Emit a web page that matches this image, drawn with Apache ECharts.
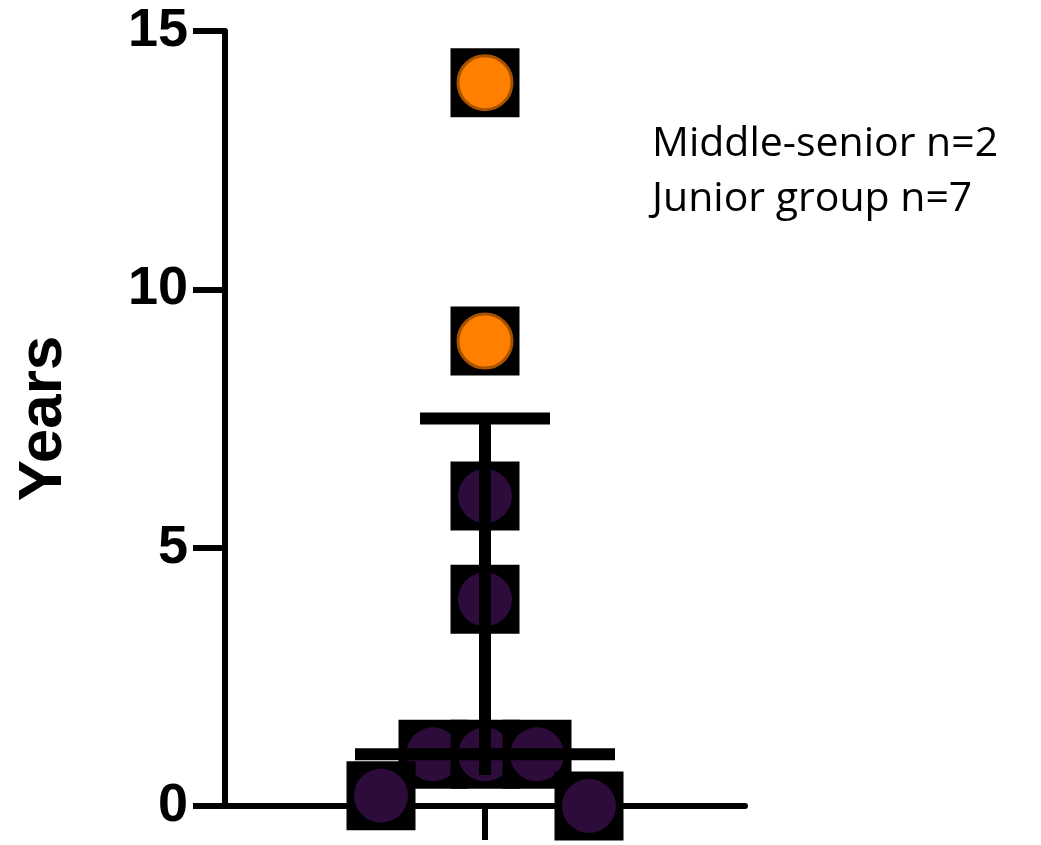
<!DOCTYPE html>
<html>
<head>
<meta charset="utf-8">
<script src="https://cdn.jsdelivr.net/npm/echarts@6/dist/echarts.min.js"></script>
<style>
html,body{margin:0;padding:0;background:#fff;}
#Charts1{width:1041px;height:845px;}
</style>
</head>
<body>
<div id="Charts1"></div>
<script>
// data
var groupNames = ['Middle-senior n=2', 'Junior group n=7'];
var middleX = [0, 0];
var middleY = [14, 9];
var juniorX = [0, 0, -0.2, 0, 0.2, -0.4, 0.4];
var juniorY = [6, 4, 1, 1, 1, 0.2, 0];
var yTicks = [0, 5, 10, 15];
// median with interquartile range of all points
var median = 1, q1 = 0.6, q3 = 7.5;

ShowChart();
function ShowChart(){
	var myChart = echarts.init(document.getElementById('Charts1'));
	var pts = [];
	for (var i = 0; i < middleY.length; i++) pts.push([middleX[i], middleY[i], 1]);
	for (var j = 0; j < juniorY.length; j++) pts.push([juniorX[j], juniorY[j], 0]);

	var barLine = { color: '#000', width: 12, cap: 'butt' };
	var option = {
		animation: false,
		grid: { left: 225, right: 296, top: 31, bottom: 39, containLabel: false },
		xAxis: {
			type: 'value', min: -1, max: 1, interval: 1,
			axisLine: { show: true, onZero: false, lineStyle: { color: '#000', width: 6 } },
			axisTick: { show: true, length: 34, customValues: [0], lineStyle: { color: '#000', width: 6 } },
			axisLabel: { show: false },
			splitLine: { show: false }
		},
		yAxis: {
			type: 'value', min: 0, max: 15, interval: 5,
			name: 'Years', nameLocation: 'middle', nameRotate: 90, nameGap: 150,
			nameTextStyle: { fontFamily: 'Liberation Sans', fontWeight: 'bold', fontSize: 62, color: '#000' },
			axisLine: { show: true, onZero: false, lineStyle: { color: '#000', width: 6 } },
			axisTick: { show: true, length: 32, lineStyle: { color: '#000', width: 6 } },
			axisLabel: { margin: 37, fontFamily: 'Liberation Sans', fontWeight: 'bold', fontSize: 54, color: '#000',
				formatter: function (v) { return yTicks.indexOf(v) >= 0 ? String(v) : ''; } },
			splitLine: { show: false }
		},
		series: [
			{
				type: 'custom', z: 2, data: pts,
				renderItem: function (params, api) {
					var p = api.coord([api.value(0), api.value(1)]);
					var orange = api.value(2) === 1;
					return {
						type: 'group',
						children: [
							{ type: 'rect', shape: { x: p[0] - 34.5, y: p[1] - 34.5, width: 69, height: 69 }, style: { fill: '#000' } },
							{ type: 'circle', shape: { cx: p[0], cy: p[1], r: 27 },
								style: orange ? { fill: '#ff8000', stroke: '#a85200', lineWidth: 3 } : { fill: '#2d0b3b' } }
						]
					};
				}
			},
			{ type: 'line', z: 3, symbol: 'none', lineStyle: barLine, data: [[0, q1], [0, q3]] },
			{ type: 'line', z: 3, symbol: 'none', lineStyle: barLine, data: [[-0.25, q3], [0.25, q3]] },
			{ type: 'line', z: 3, symbol: 'none', lineStyle: barLine, data: [[-0.5, median], [0.5, median]] }
		],
		graphic: [
			{ type: 'text', left: 652, top: 124, style: { text: groupNames[0], font: '41px "Open Sans"', fill: '#000' } },
			{ type: 'text', left: 652, top: 179, style: { text: groupNames[1], font: '41px "Open Sans"', fill: '#000' } }
		]
	};
	myChart.setOption(option);
}
</script>
</body>
</html>
